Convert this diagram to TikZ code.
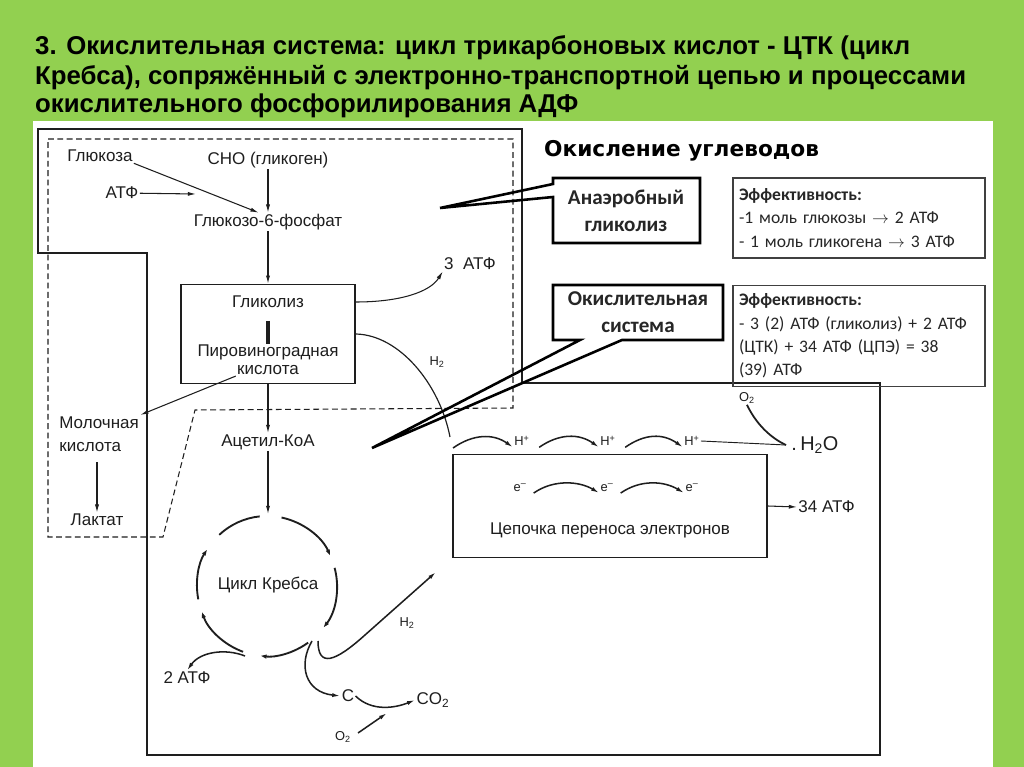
\documentclass[tikz,border=0pt]{standalone}
\usepackage{fontspec}
\setmainfont{Liberation Sans}
\newfontfamily\calfont{Carlito}
\newfontfamily\headfont{DejaVu Sans}
\usetikzlibrary{arrows.meta}
\definecolor{slidegreen}{HTML}{92D050}
\definecolor{ink}{HTML}{1E1E1E}
\tikzset{
  ttl/.style={font=\bfseries\fontsize{22}{26}\selectfont, text=black, inner sep=0pt},
  lbl/.style={font=\fontsize{14.5}{17}\selectfont, text=ink, inner sep=1pt},
  sml/.style={font=\fontsize{11}{13}\selectfont, text=ink, inner sep=1pt},
  arr/.style={-{Latex[length=7pt,width=3.5pt]}, line width=0.9pt, draw=ink},
  cyc/.style={-{Latex[length=8pt,width=3.5pt]}, line width=1.6pt, draw=ink},
  solidframe/.style={line width=1.3pt, draw=ink},
  dframe/.style={line width=0.9pt, draw=ink, dash pattern=on 5pt off 3pt},
  boxnode/.style={draw=ink, line width=1.3pt, inner sep=0pt},
  calloutline/.style={line width=2.2pt, draw=black},
  cfont/.style={font=\calfont\bfseries\fontsize{18}{23}\selectfont, text=black!85, align=center},
  effbox/.style={draw=black!75, line width=1pt, minimum width=7.56cm, inner xsep=0.18cm,
    text width=7.2cm, align=left, font=\calfont\fontsize{15}{20}\selectfont, text=black!85},
}
\begin{document}
\begin{tikzpicture}[x=0.03cm, y=-0.03cm]
  \useasboundingbox (0,0) rectangle (1024,767);
  \fill[slidegreen] (0,0) rectangle (1024,767);
  \fill[white] (33,121) rectangle (993,767);

  \node[ttl, anchor=base west] (ttl1) at (35,55) {3. Окислительная система: цикл трикарбоновых кислот - ЦТК (цикл};
  \node[ttl, anchor=base west] (ttl2) at (35,85) {Кребса), сопряжённый с электронно-транспортной цепью и процессами};
  \node[ttl, anchor=base west] (ttl3) at (35,113) {окислительного фосфорилирования АДФ};

  \draw[solidframe] (38,129) -- (522,129) -- (522,383) -- (880,383) -- (880,755) -- (147,755) -- (147,253) -- (38,253) -- cycle;
  \draw[dframe] (48,139) -- (513,139) -- (513,408) -- (195,410) -- (163,537) -- (48,537) -- cycle;

  \node[lbl] (glc) at (100,156) {Глюкоза};
  \node[lbl] (cho) at (268,160) {СНО (гликоген)};
  \node[lbl] (atpin) at (122,193) {АТФ};
  \coordinate (atpend) at (196,194);
  \node[lbl] (g6p) at (268,222) {Глюкозо-6-фосфат};
  \draw[arr] (atpin) -- (atpend);
  \draw[arr] (glc.south east) -- ([xshift=-8pt]g6p.north);
  \draw[arr] (cho) -- (g6p);

  \node[boxnode, minimum width=5.22cm, minimum height=2.97cm] (glyc) at (268,334) {};
  \node[lbl] (gltxt) at (268,302) {Гликолиз};
  \node[lbl] (pyr1) at (268,352) {Пировиноградная};
  \node[lbl] (pyr2) at (268,370) {кислота};
  \draw[line width=3.5pt, ink] (268,321) -- (268,344);
  \draw[arr] (g6p) -- (glyc);

  \node[lbl] (atp3) at (470,264) {3~~АТФ};
  \draw[arr] (glyc.east |- gltxt) .. controls (400,302) and (430,292) .. (atp3.south west);
  \node[sml] (h2a) at (437,362) {H\textsubscript{2}};
  \coordinate (h2top) at (450,437);
  \draw[line width=1pt, ink] (glyc.east) .. controls (400,335) and (440,385) .. (h2top);

  \node[lbl, align=left, anchor=west] (milk) at (58,434) {Молочная\\[3pt]кислота};
  \node[lbl] (lac) at (97,520) {Лактат};
  \draw[arr] (pyr2.south west) -- (milk.north east);
  \draw[arr, shorten <=8pt] (lac.north |- milk.south) -- (lac.north);

  \node[lbl] (acoa) at (268,442) {Ацетил-КоА};
  \draw[arr] (glyc.south) -- (acoa.north);
  \coordinate (kc) at (267,586);
  \coordinate (ktop) at (268,514);
  \draw[arr] (acoa) -- (ktop);
  \node[lbl] (krebs) at (268,585) {Цикл Кребса};
  \foreach \a/\b in {-78/-23, -15/39, 54/98, 110/161, 169/214}
    \draw[cyc] (kc) ++(\a:70) arc (\a:\b:70);
  \draw[cyc, -] (kc) ++(-133:70) arc (-133:-96:70);

  \coordinate (kb1) at (245,656);
  \node[lbl] (atp2) at (187,678) {2~АТФ};
  \draw[arr, line width=1.3pt] (kb1) .. controls (225,648) and (200,652) .. (atp2.north);
  \coordinate (kb2) at (312,641);
  \node[lbl] (carb) at (348,696) {C};
  \draw[arr, line width=1.3pt] (kb2) .. controls (298,665) and (305,692) .. (carb.west);
  \node[lbl] (co2) at (433,700) {CO\textsubscript{2}};
  \draw[arr, line width=1.3pt] (carb.east) .. controls (372,712) and (395,708) .. (co2.west);
  \coordinate (cjn) at (387,713);
  \node[sml] (o2a) at (343,737) {O\textsubscript{2}};
  \draw[arr, line width=1.3pt, shorten <=6pt] (o2a.east) -- (cjn);
  \coordinate (kb3) at (318,641);
  \coordinate (h2tip) at (436,572);
  \node[sml] (h2b) at (407,623) {H\textsubscript{2}};
  \draw[arr, line width=1.3pt] (kb3) .. controls (318,668) and (335,662) .. (365,635) -- (h2tip);

  \node[boxnode, minimum width=9.42cm, minimum height=3.09cm] (etc) at (610,506) {};
  \node[lbl] (etctxt) at (610,530) {Цепочка переноса электронов};
  \node[sml] (hp1) at (522,441) {H\textsuperscript{+}};
  \node[sml] (hp2) at (608,441) {H\textsuperscript{+}};
  \node[sml] (hp3) at (692,441) {H\textsuperscript{+}};
  \node[sml] (el1) at (520,488) {e\textsuperscript{--}};
  \node[sml] (el2) at (607,488) {e\textsuperscript{--}};
  \node[sml] (el3) at (692,488) {e\textsuperscript{--}};
  \coordinate (h0) at (453,448);
  \draw[arr, line width=1.3pt] (h0) .. controls +(20,-14) and +(-20,-14) .. (hp1.south west);
  \draw[arr, line width=1.3pt] ([xshift=7pt]hp1.south east) .. controls +(20,-14) and +(-20,-14) .. (hp2.south west);
  \draw[arr, line width=1.3pt] ([xshift=7pt]hp2.south east) .. controls +(20,-14) and +(-20,-14) .. (hp3.south west);
  \draw[arr, line width=1.3pt] ([xshift=5pt]el1.south east) .. controls +(20,-14) and +(-20,-12) .. (el2.south west);
  \draw[arr, line width=1.3pt] ([xshift=5pt]el2.south east) .. controls +(20,-14) and +(-20,-12) .. (el3.south west);
  \node[sml] (o2b) at (747,398) {O\textsubscript{2}};
  \coordinate (jn) at (786,445);
  \draw[line width=0.8pt, ink] (hp3.east) -- (jn);
  \draw[line width=1.5pt, ink] (o2b.south) .. controls (758,428) and (775,440) .. (jn);
  \node[lbl, anchor=west, font=\fontsize{17}{20}\selectfont] (water) at (790,445) {.\,H\textsubscript{2}O};
  \node[lbl, anchor=west] (atp34) at (797,507) {34 АТФ};
  \draw[arr] (etc.east) -- (atp34.west);

  \node[anchor=base west, font=\headfont\bfseries\fontsize{18.5}{22}\selectfont] (head) at (540,157) {Окисление углеводов};
  \draw[calloutline] (553,178) -- (700,178) -- (700,243) -- (553,243) -- (553,197) -- (440,208) -- (553,184) -- cycle;
  \node[cfont] (anaer) at (626,211) {Анаэробный\\гликолиз};
  \draw[calloutline] (553,285) -- (723,285) -- (723,340) -- (622,340) -- (372,448) -- (580,340) -- (553,340) -- cycle;
  \node[cfont] (oksys) at (638,312) {Окислительная\\система};

  \node[effbox, minimum height=2.4cm] (eff1) at (859,218) {\textbf{Эффективность:}\\-1 моль глюкозы $\rightarrow$ 2 АТФ\\- 1 моль гликогена $\rightarrow$ 3 АТФ};
  \node[effbox, minimum height=3.03cm] (eff2) at (859,336) {\textbf{Эффективность:}\\- 3 (2) АТФ (гликолиз) + 2 АТФ\\(ЦТК) + 34 АТФ (ЦПЭ) = 38\\(39) АТФ};
\end{tikzpicture}
\end{document}
